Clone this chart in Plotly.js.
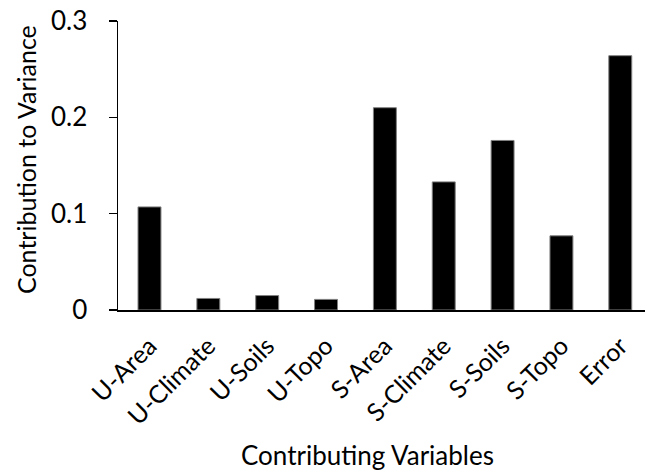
<!DOCTYPE html>
<html>
<head>
<meta charset="utf-8">
<script src="https://cdn.plot.ly/plotly-3.0.1.min.js"></script>
<style>html,body{margin:0;padding:0;background:#fff;}#chart{width:645px;height:472px;}</style>
</head>
<body>
<div id="chart"></div>
<script>
const categories = ["U-Area","U-Climate","U-Soils","U-Topo","S-Area","S-Climate","S-Soils","S-Topo","Error"];
const contribution = [0.107, 0.012, 0.015, 0.011, 0.210, 0.133, 0.176, 0.077, 0.264];
const yTickValues = [0, 0.1, 0.2, 0.3];
const yTickLabels = ["0", "0.1", "0.2", "0.3"];
const xTitle = "Contributing Variables";
const yTitle = "Contribution to Variance";

const FONT = "Lato, 'Open Sans', sans-serif";

const trace = {
  type: "bar",
  x: categories.map((c, i) => i),
  y: contribution,
  marker: {color: "#000000", line: {color: "#808080", width: 1}},
  hoverinfo: "x+y"
};

const layout = {
  width: 645, height: 472,
  margin: {l: 118, r: 0, t: 21, b: 162},
  paper_bgcolor: "#ffffff", plot_bgcolor: "#ffffff",
  showlegend: false,
  bargap: 0.61,
  font: {family: FONT, color: "#000000", size: 25},
  xaxis: {
    range: [-0.535, 8.42],
    tickmode: "array",
    tickvals: categories.map((c, i) => i),
    ticktext: categories,
    tickangle: -45,
    ticks: "",
    ticklabelstandoff: 10,
    showgrid: false, zeroline: false,
    showline: true, linecolor: "#000000", linewidth: 1.5,
    tickfont: {family: FONT, size: 25, color: "#000000"},
    automargin: false,
    fixedrange: true
  },
  yaxis: {
    range: [0, 0.3],
    tickmode: "array",
    tickvals: yTickValues,
    ticktext: yTickLabels,
    ticks: "outside", ticklen: 8, tickwidth: 1.5, tickcolor: "#000000",
    ticklabelstandoff: 16,
    showgrid: false, zeroline: false,
    showline: true, linecolor: "#000000", linewidth: 1.5,
    tickfont: {family: FONT, size: 26, color: "#000000"},
    automargin: false,
    fixedrange: true
  },
  annotations: [
    {text: xTitle, xref: "paper", yref: "paper", x: 0.4725, y: 0, xanchor: "center", yanchor: "middle",
     yshift: -145, showarrow: false, font: {family: FONT, size: 26, color: "#000000"}},
    {text: yTitle, xref: "paper", yref: "paper", x: 0, y: 0.519, xanchor: "center", yanchor: "middle",
     xshift: -92, textangle: -90, showarrow: false, font: {family: FONT, size: 25, color: "#000000"}}
  ]
};

Plotly.newPlot("chart", [trace], layout, {displayModeBar: false, staticPlot: true});
</script>
</body>
</html>
